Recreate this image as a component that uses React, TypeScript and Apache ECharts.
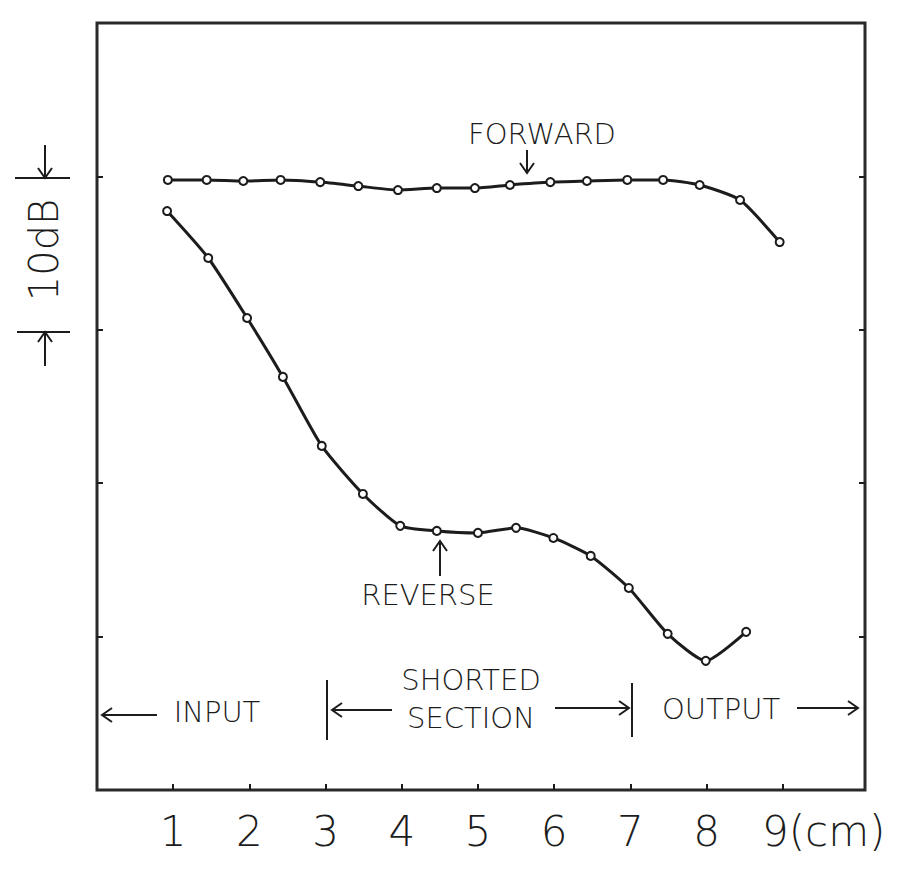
import React, { useEffect, useRef } from "react";
import * as echarts from "echarts";

// x positions in cm, level in dB (relative)
const forwardX = [0.93, 1.44, 1.92, 2.41, 2.93, 3.43, 3.95, 4.46, 4.96, 5.42, 5.95, 6.43, 6.96, 7.43, 7.91, 8.44, 8.96];
const forwardDb = [-0.23, -0.23, -0.3, -0.23, -0.37, -0.63, -0.89, -0.76, -0.76, -0.56, -0.37, -0.3, -0.23, -0.23, -0.56, -1.54, -4.28];

const reverseX = [0.92, 1.46, 1.97, 2.44, 2.95, 3.49, 3.98, 4.46, 5.0, 5.5, 5.99, 6.48, 6.98, 7.49, 7.99, 8.52];
const reverseDb = [-2.26, -5.32, -9.23, -13.07, -17.57, -20.7, -22.78, -23.11, -23.24, -22.91, -23.57, -24.74, -26.83, -29.82, -31.58, -29.69];

const xTicks = [1, 2, 3, 4, 5, 6, 7, 8, 9];
const yTicks = [-30, -20, -10, 0];

const FONT = "DejaVu Sans";
const INK = "#1c1c1c";

function arrowHead(x: number, y: number, dir: "up" | "down" | "left" | "right") {
  const s = 10;
  const w = 7;
  let pts: number[][] = [];
  if (dir === "down") pts = [[x - w, y - s], [x, y], [x + w, y - s]];
  if (dir === "up") pts = [[x - w, y + s], [x, y], [x + w, y + s]];
  if (dir === "left") pts = [[x + s, y - w], [x, y], [x + s, y + w]];
  if (dir === "right") pts = [[x - s, y - w], [x, y], [x - s, y + w]];
  return { type: "polyline", shape: { points: pts }, style: { stroke: INK, lineWidth: 2, fill: null } };
}
function seg(x1: number, y1: number, x2: number, y2: number, w = 2) {
  return { type: "line", shape: { x1, y1, x2, y2 }, style: { stroke: INK, lineWidth: w } };
}
function label(text: string, x: number, y: number, size = 29, rotation = 0) {
  return {
    type: "text",
    x,
    y,
    rotation,
    style: {
      text,
      fontSize: size,
      fontFamily: FONT,
      fontWeight: 200,
      fill: INK,
      align: "center",
      verticalAlign: "middle",
    },
  };
}

export default function App() {
  const ref = useRef<HTMLDivElement>(null);
  useEffect(() => {
    if (!ref.current) return;
    const chart = echarts.init(ref.current, undefined, { renderer: "svg" });
    const fwd = forwardX.map((x, i) => [x, forwardDb[i]]);
    const rev = reverseX.map((x, i) => [x, reverseDb[i]]);
    const yAxisBase = {
      type: "value",
      min: -40,
      max: 10,
      axisLine: { show: false, onZero: false },
      splitLine: { show: false },
      axisLabel: { show: false },
      axisTick: { show: true, inside: true, length: 6, customValues: yTicks, lineStyle: { color: INK, width: 2 } },
    };
    chart.setOption({
      animation: false,
      backgroundColor: "#ffffff",
      grid: {
        left: 97,
        right: 42,
        top: 23,
        bottom: 82,
        show: true,
        borderColor: "#2a2a2a",
        borderWidth: 3,
        backgroundColor: "transparent",
      },
      xAxis: {
        type: "value",
        min: 0,
        max: 10.08,
        position: "bottom",
        axisLine: { show: false, onZero: false },
        splitLine: { show: false },
        axisTick: { show: true, inside: true, length: 6, customValues: xTicks, lineStyle: { color: INK, width: 2 } },
        axisLabel: {
          customValues: xTicks,
          margin: 20,
          fontSize: 42,
          fontFamily: FONT,
          fontWeight: 200,
          color: INK,
          formatter: (v: number) => (v === 9 ? "{p|}9{u|(cm)}" : String(v)),
          rich: {
            p: { width: 82, fontSize: 42, fontFamily: FONT },
            u: { fontSize: 42, fontFamily: FONT, fontWeight: 200, color: INK },
          },
        },
      },
      yAxis: [
        { ...yAxisBase, position: "left" },
        { ...yAxisBase, position: "right" },
      ],
      series: [
        {
          name: "FORWARD",
          type: "line",
          data: fwd,
          smooth: 0.2,
          symbol: "circle",
          symbolSize: 8,
          itemStyle: { color: "#ffffff", borderColor: INK, borderWidth: 2 },
          lineStyle: { color: INK, width: 3 },
        },
        {
          name: "REVERSE",
          type: "line",
          data: rev,
          smooth: 0.2,
          symbol: "circle",
          symbolSize: 8,
          itemStyle: { color: "#ffffff", borderColor: INK, borderWidth: 2 },
          lineStyle: { color: INK, width: 3 },
        },
      ],
      graphic: [
        label("FORWARD", 542, 134),
        seg(527, 150, 527, 172),
        arrowHead(527, 173, "down"),
        label("REVERSE", 428, 595),
        seg(440, 576, 440, 542),
        arrowHead(440, 541, "up"),
        label("INPUT", 217, 712),
        seg(157, 715, 103, 715),
        arrowHead(102, 715, "left"),
        seg(327, 680, 327, 740),
        seg(392, 710, 333, 710),
        arrowHead(332, 710, "left"),
        label("SHORTED", 471, 680),
        label("SECTION", 471, 718),
        seg(555, 708, 628, 708),
        arrowHead(629, 708, "right"),
        seg(632, 683, 632, 737),
        label("OUTPUT", 721, 709),
        seg(797, 708, 857, 708),
        arrowHead(858, 708, "right"),
        label("10dB", 44, 250, 40, Math.PI / 2),
        seg(15, 178, 70, 178),
        seg(45, 145, 45, 177),
        arrowHead(45, 178, "down"),
        seg(17, 332, 70, 332),
        seg(45, 366, 45, 333),
        arrowHead(45, 332, "up"),
      ],
    });
    return () => chart.dispose();
  }, []);
  return (
    <div
      ref={ref}
      style={{ position: "fixed", left: 0, top: 0, width: 907, height: 872, background: "#fff" }}
    />
  );
}
